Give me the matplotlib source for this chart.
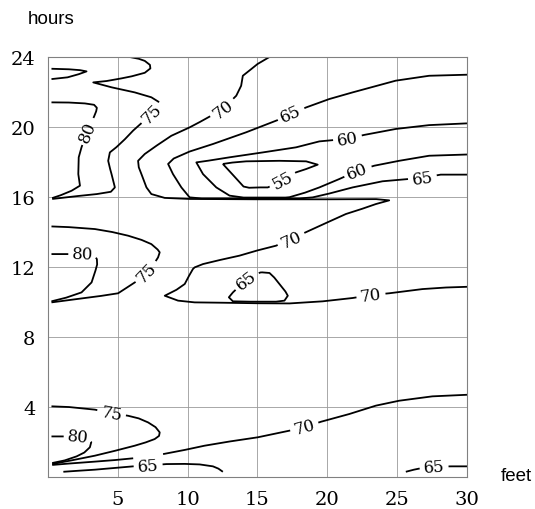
import numpy as np
import matplotlib
matplotlib.use('Agg')
import matplotlib.pyplot as plt
from matplotlib.contour import ContourSet

plt.rcParams['font.family'] = 'DejaVu Serif'

# isotherm levels (deg F)
levels = [55, 60, 65, 70, 75, 80]
x_ticks = [5, 10, 15, 20, 25, 30]
y_ticks = [4, 8, 12, 16, 20, 24]

# isolines as (feet, hours) points, one list per level
iso_80 = [
    [(0.25, 23.33), (1.5, 23.3), (2.3, 23.25), (2.76, 23.18), (2.2, 23.02), (1.4, 22.84), (0.25, 22.74)],
    [(0.25, 21.41), (1.5, 21.4), (2.64, 21.35), (3.3, 21.27), (3.5, 21.1), (3.45, 20.9), (3.3, 20.6),
     (3.0, 20.1), (2.65, 19.4), (2.4, 18.84), (2.2, 18.27), (2.17, 17.31), (2.29, 16.65), (1.69, 16.36),
     (0.9, 16.1), (0.3, 15.94)],
    [(0.25, 12.74), (1.5, 12.74), (2.5, 12.74), (3.3, 12.7), (3.5, 12.45), (3.52, 12.15), (3.4, 11.8),
     (3.12, 11.12), (2.4, 10.55), (1.3, 10.25), (0.25, 10.04)],
    [(0.25, 2.32), (1.4, 2.32), (2.2, 2.31), (2.9, 2.22), (3.1, 2.0), (3.0, 1.7), (2.6, 1.4),
     (2.05, 1.18), (1.2, 0.95), (0.3, 0.8)],
]
iso_75 = [
    [(5.86, 24.0), (6.5, 23.9), (6.93, 23.78), (7.3, 23.55), (7.33, 23.35), (6.93, 23.1), (6.0, 22.9),
     (5.26, 22.78), (4.2, 22.63), (3.24, 22.55), (4.55, 22.27), (6.21, 21.98), (7.4, 21.7), (7.9, 21.45),
     (8.05, 21.3), (7.5, 20.8), (6.8, 20.3), (6.1, 19.8), (5.5, 19.3), (4.9, 18.85), (4.43, 18.55),
     (4.31, 18.07), (4.45, 17.6), (4.55, 17.31), (4.79, 16.55), (4.5, 16.3), (3.5, 16.17), (2.17, 16.06),
     (0.3, 15.89)],
    [(0.25, 14.32), (1.5, 14.28), (3.36, 14.17), (4.6, 14.0), (5.74, 13.79), (6.7, 13.55), (7.4, 13.31),
     (7.85, 13.0), (8.0, 12.84), (7.88, 12.55), (7.6, 12.2), (7.05, 11.7), (6.6, 11.35), (6.33, 11.18),
     (5.6, 10.8), (5.02, 10.5), (3.8, 10.35), (2.64, 10.23), (1.4, 10.1), (0.25, 9.98)],
    [(0.25, 4.04), (1.5, 4.0), (3.36, 3.85), (4.55, 3.65), (5.74, 3.5), (6.5, 3.35), (7.17, 3.12),
     (7.7, 2.85), (8.0, 2.55), (7.95, 2.35), (7.64, 2.17), (7.0, 1.98), (6.21, 1.79), (4.8, 1.5),
     (3.36, 1.22), (1.8, 0.97), (0.3, 0.74)],
]
iso_70 = [
    [(15.85, 24.0), (15.0, 23.6), (14.55, 23.31), (13.95, 22.93), (13.83, 22.36), (13.48, 21.79),
     (12.52, 21.03), (11.69, 20.65), (10.9, 20.3), (10.14, 19.98), (8.83, 19.5), (7.8, 18.95),
     (6.93, 18.46), (6.45, 18.07), (6.5, 17.7), (6.69, 17.31), (7.05, 16.55), (7.4, 16.17), (8.36, 15.95),
     (10.14, 15.89), (15.0, 15.87), (20.0, 15.87), (23.5, 15.88), (24.43, 15.81), (23.48, 15.6),
     (22.5, 15.33), (21.33, 15.03), (20.0, 14.55), (18.71, 14.08), (17.4, 13.6), (16.33, 13.22),
     (15.0, 12.95), (13.71, 12.65), (12.3, 12.4), (11.1, 12.17), (10.5, 11.98), (10.38, 11.89),
     (10.1, 11.5), (9.79, 11.03), (9.2, 10.7), (8.36, 10.36), (9.31, 10.08), (10.5, 9.98), (12.52, 9.96),
     (15.0, 9.93), (17.29, 9.92), (19.67, 10.04), (21.81, 10.23), (23.12, 10.4), (24.43, 10.5),
     (26.81, 10.74), (28.5, 10.83), (30.0, 10.87)],
    [(0.3, 0.69), (1.5, 0.77), (3.36, 0.88), (4.8, 0.97), (6.1, 1.07)],
    [(8.24, 1.31), (9.8, 1.55), (11.21, 1.79), (13.0, 2.03), (15.02, 2.27), (17.29, 2.65), (18.36, 2.85),
     (19.55, 3.16), (21.57, 3.6), (23.48, 4.08), (25.14, 4.36), (27.52, 4.61), (30.0, 4.7)],
]
iso_65 = [
    [(30.0, 22.99), (27.29, 22.93), (24.9, 22.65), (21.81, 21.98), (20.14, 21.6), (18.48, 21.12),
     (17.4, 20.75), (16.45, 20.4), (14.19, 19.7), (11.81, 19.03), (10.14, 18.6), (9.0, 18.2),
     (8.6, 17.89), (8.95, 17.31), (9.55, 16.55), (10.14, 15.98), (11.0, 15.92), (18.0, 15.92),
     (18.95, 15.98), (20.14, 16.2), (21.81, 16.55), (23.95, 16.9), (26.81, 17.1), (28.12, 17.28),
     (30.0, 17.28)],
    [(15.26, 11.7), (15.86, 11.66), (16.2, 11.4), (16.57, 11.03), (17.0, 10.6), (17.17, 10.36),
     (16.93, 10.08), (16.33, 10.02), (14.5, 10.02), (13.24, 10.04), (12.95, 10.27), (13.24, 10.55),
     (13.7, 10.9), (14.19, 11.26), (14.7, 11.55), (15.26, 11.7)],
    [(1.1, 0.3), (2.2, 0.36), (3.36, 0.42), (4.8, 0.52), (6.1, 0.61), (7.17, 0.66), (8.48, 0.74),
     (9.79, 0.75), (10.86, 0.72), (11.81, 0.61), (12.2, 0.48), (12.52, 0.3)],
    [(25.62, 0.3), (26.2, 0.42), (26.69, 0.5), (27.64, 0.6), (28.95, 0.61), (30.0, 0.61)],
]
iso_60 = [
    [(30.0, 20.21), (27.29, 20.11), (24.9, 19.89), (22.64, 19.55), (21.45, 19.33), (19.43, 19.18),
     (17.76, 18.84), (15.38, 18.55), (13.0, 18.27), (11.5, 18.08), (10.62, 17.98), (11.1, 17.31),
     (12.05, 16.55), (13.0, 16.08), (14.0, 15.97), (17.0, 15.97), (17.29, 15.99), (18.4, 16.25),
     (19.43, 16.55), (20.86, 17.03), (22.17, 17.5), (23.36, 17.79), (25.14, 18.07), (27.29, 18.36),
     (30.0, 18.43)],
]
iso_55 = [
    [(12.52, 17.89), (13.2, 17.3), (14.0, 16.6), (14.4, 16.53), (15.2, 16.55), (15.74, 16.55),
     (16.81, 16.95), (17.76, 17.41), (18.48, 17.6), (19.31, 17.85), (18.48, 18.04), (16.57, 18.07),
     (14.19, 18.04), (13.2, 17.97), (12.52, 17.89)],
]

# where the level labels sit on the lines
label_pos = [
    (3.0, 19.7), (2.5, 12.74), (2.17, 2.31),
    (7.45, 20.8), (7.05, 11.7), (4.55, 3.65),
    (12.52, 21.03), (17.4, 13.6), (23.12, 10.4), (18.36, 2.85),
    (17.4, 20.75), (26.81, 17.1), (14.19, 11.26), (7.17, 0.66), (27.64, 0.6),
    (21.45, 19.33), (22.17, 17.5),
    (16.81, 16.95),
]

fig = plt.figure(figsize=(5.35, 5.10), dpi=100)
ax = fig.add_axes([0.0897, 0.0627, 0.7832, 0.8235])

segs = [[np.array(s) for s in lvl] for lvl in (iso_55, iso_60, iso_65, iso_70, iso_75, iso_80)]
cs = ContourSet(ax, levels, segs, colors='k', linewidths=1.3)

ax.set_xlim(0, 30)
ax.set_ylim(0, 24)
ax.set_xticks(x_ticks)
ax.set_yticks(y_ticks)
ax.tick_params(length=0, pad=9, labelsize=14)
ax.grid(True, color='#9a9a9a', lw=0.6)
ax.set_axisbelow(True)
for s in ax.spines.values():
    s.set_color('#808080')
    s.set_linewidth(0.8)

ax.clabel(cs, manual=label_pos, inline=True, fmt='%d', fontsize=12, inline_spacing=4)

fig.text(0.052, 0.953, 'hours', family='Liberation Sans', fontsize=13.5)
fig.text(0.936, 0.065, 'feet', family='Liberation Sans', fontsize=13.5, va='center')

fig.savefig('out.png', dpi=100)
